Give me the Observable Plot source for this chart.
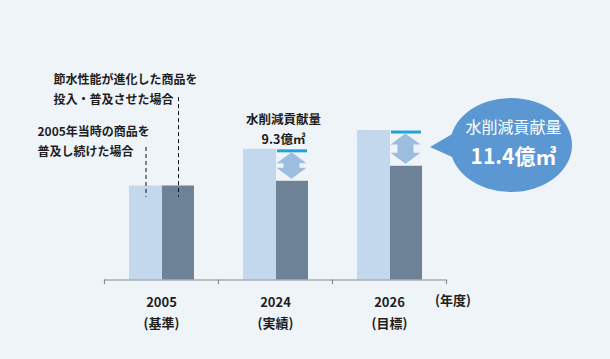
<!DOCTYPE html>
<html><head><meta charset="utf-8">
<script src="https://cdn.jsdelivr.net/npm/d3@7"></script>
<script src="https://cdn.jsdelivr.net/npm/@observablehq/plot@0.6"></script>
<style>
html,body{margin:0;padding:0;background:#eff4f9;}
#chart{width:610px;height:359px;overflow:hidden;}
</style></head><body><div id="chart"></div>
<script>
// ---- data (relative water use, 2005 = 100) ----
const years = ["2005", "2024", "2026"];
const yearNotes = ["(基準)", "(実績)", "(目標)"];
const conventional = [100, 139, 159];   // 2005年当時の商品を普及し続けた場合
const waterSaving = [100, 105, 121];    // 節水性能が進化した商品を投入・普及させた場合
const reductionLabels = ["", "9.3億㎥", "11.4億㎥"];
const reductionTitle = "水削減貢献量";
const legendLight = "2005年当時の商品を\n普及し続けた場合";
const legendDark = "節水性能が進化した商品を\n投入・普及させた場合";
const unitLabel = "(年度)";
// annotation anchor levels (same units as values)
const legendLightLevel = 149.5, legendDarkLevel = 205;
const leaderLight = [141, 88], leaderDark = [194, 88];

const rows = years.map((year, i) => ({
  year, note: yearNotes[i], light: conventional[i], dark: waterSaving[i], label: reductionLabels[i]
}));
const saved = rows.filter(d => d.light > d.dark);

const C = {light: "#c3d8ec", dark: "#6d8296", cyan: "#20a4d8", arrow: "#9cbde0", bubble: "#5b97d3", axis: "#8a8a8a", text: "#1e1e1e"};
const font = "'Noto Sans CJK JP', 'Noto Sans', sans-serif";

const plot = Plot.plot({
  width: 610, height: 359,
  marginLeft: 104, marginRight: 164, marginTop: 44.5, marginBottom: 79.5,
  style: {background: "transparent", fontFamily: font},
  x: {type: "band", domain: years, padding: 0, axis: null},
  y: {domain: [0, 250], axis: null},
  marks: [
    Plot.barY(rows, {x: "year", y: "light", fill: C.light, insetLeft: 25, insetRight: 56}),
    Plot.barY(rows, {x: "year", y: "dark", fill: C.dark, insetLeft: 58, insetRight: 24}),
    Plot.tickY(saved, {x: "year", y: "light", stroke: C.cyan, strokeWidth: 3, dy: 1.5, insetLeft: 59, insetRight: 25}),
    Plot.ruleY([0], {stroke: C.axis, strokeWidth: 1.2}),
    Plot.ruleX(years, {x: d => d, dx: -57, y1: 0, y2: -5, stroke: C.axis, strokeWidth: 1.2}),
    Plot.ruleX(years.slice(-1), {x: d => d, dx: 57, y1: 0, y2: -5, stroke: C.axis, strokeWidth: 1.2}),
    // leader lines
    Plot.ruleX([years[0]], {x: d => d, dx: -15.5, y1: leaderLight[0], y2: leaderLight[1], stroke: "#111", strokeDasharray: "4,3"}),
    Plot.ruleX([years[0]], {x: d => d, dx: 17, y1: leaderDark[0], y2: leaderDark[1], stroke: "#111", strokeDasharray: "4,3"}),
    // legend annotations
    Plot.text([legendLight], {x: () => years[0], y: () => legendLightLevel, text: d => d, dx: -124, textAnchor: "start", lineHeight: 1.65, fontSize: 12, fontWeight: "bold", fill: C.text}),
    Plot.text([legendDark], {x: () => years[0], y: () => legendDarkLevel, text: d => d, dx: -108, textAnchor: "start", lineHeight: 1.65, fontSize: 12, fontWeight: "bold", fill: C.text}),
    // 2024 label
    Plot.text(saved.slice(0, 1), {x: "year", y: "light", text: d => `${reductionTitle}\n${d.label}`, dx: 8, dy: -22, lineHeight: 1.6, fontSize: 12.5, fontWeight: "bold", fill: C.text}),
    // 2026 bubble text
    Plot.text(saved.slice(-1), {x: "year", y: "light", text: () => reductionTitle, dx: 124, dy: -3, fontSize: 16, fill: "white"}),
    Plot.text(saved.slice(-1), {x: "year", y: "light", text: "label", dx: 124, dy: 27, fontSize: 21, fontWeight: "bold", fill: "white"}),
    // x labels
    Plot.text(rows, {x: "year", y: 0, text: d => `${d.year}\n${d.note}`, dy: 30.5, lineHeight: 1.6, fontSize: 13, fontWeight: "bold", fill: C.text}),
    Plot.text([unitLabel], {x: () => years[years.length - 1], y: 0, text: d => d, dx: 63.5, dy: 20.5, fontSize: 13, fontWeight: "bold", fill: C.text})
  ]
});
document.getElementById("chart").appendChild(plot);

// double arrows and bubble, positioned through Plot's scales
const sx = plot.scale("x"), sy = plot.scale("y");
const svg = d3.select(plot);
const deco = svg.insert("g", 'g[aria-label="text"]');
saved.forEach(d => {
  const cx = sx.apply(d.year) + 73.5;
  const top = sy.apply(d.light) + 3.5, bot = sy.apply(d.dark) - 2;
  const h = 11, w = 15, s = 8;
  const pts = [[cx, top], [cx + w, top + h], [cx + s, top + h], [cx + s, bot - h], [cx + w, bot - h], [cx, bot],
               [cx - w, bot - h], [cx - s, bot - h], [cx - s, top + h], [cx - w, top + h]];
  deco.append("polygon").attr("points", pts.map(p => p.join(",")).join(" ")).attr("fill", C.arrow);
});
const last = saved[saved.length - 1];
const bx = sx.apply(last.year) + sx.bandwidth, by = sy.apply(last.light);
deco.append("polygon")
  .attr("points", [[bx - 16, by + 17], [bx + 20, by - 4], [bx + 26, by + 36]].map(p => p.join(",")).join(" "))
  .attr("fill", C.bubble);
deco.append("ellipse").attr("cx", bx + 65).attr("cy", by + 15).attr("rx", 61).attr("ry", 47).attr("fill", C.bubble);
</script>
</body></html>
